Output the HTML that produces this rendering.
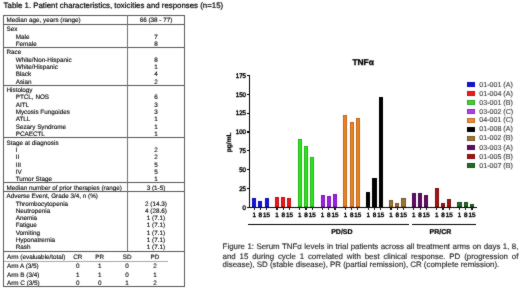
<!DOCTYPE html>
<html><head><meta charset="utf-8"><style>
html,body{margin:0;padding:0;background:#fff;width:520px;height:289px;overflow:hidden;}
body{position:relative;font-family:"Liberation Sans", sans-serif;}
#c{position:absolute;left:10px;top:10px;width:520px;height:289px;}
#w{position:absolute;left:-10px;top:-10px;width:540px;height:309px;will-change:transform;background:#fff;filter:url(#bl);}
.t{position:absolute;white-space:nowrap;line-height:1;-webkit-text-stroke:0.12px currentColor;text-rendering:geometricPrecision;}
.r{position:absolute;}
</style></head><body>
<svg width="0" height="0" style="position:absolute"><filter id="bl" x="0" y="0" width="100%" height="100%" color-interpolation-filters="sRGB"><feConvolveMatrix order="3" kernelMatrix="1 2 1 2 24 2 1 2 1" divisor="36" edgeMode="duplicate" preserveAlpha="true"/></filter></svg><div id="w"><div id="c">
<div class="t" style="left:3.60px;top:2px;font-size:7.85px;font-weight:normal;color:#000;-webkit-text-stroke:0.2px #000;">Table 1. Patient characteristics, toxicities and responses (n=15)</div>
<div class="t" style="left:6.50px;top:18px;font-size:6.33px;font-weight:normal;color:#000;">Median age, years (range)</div>
<div class="t" style="left:56.00px;width:200px;text-align:center;top:18px;font-size:6.33px;font-weight:normal;color:#000;">66 (38 - 77)</div>
<div class="t" style="left:6.50px;top:27px;font-size:6.33px;font-weight:normal;color:#000;">Sex</div>
<div class="t" style="left:15.70px;top:35px;font-size:6.33px;font-weight:normal;color:#000;">Male</div>
<div class="t" style="left:56.00px;width:200px;text-align:center;top:35px;font-size:6.33px;font-weight:normal;color:#000;">7</div>
<div class="t" style="left:15.70px;top:42px;font-size:6.33px;font-weight:normal;color:#000;">Female</div>
<div class="t" style="left:56.00px;width:200px;text-align:center;top:42px;font-size:6.33px;font-weight:normal;color:#000;">8</div>
<div class="t" style="left:6.50px;top:50px;font-size:6.33px;font-weight:normal;color:#000;">Race</div>
<div class="t" style="left:15.70px;top:58px;font-size:6.33px;font-weight:normal;color:#000;">White/Non-Hispanic</div>
<div class="t" style="left:56.00px;width:200px;text-align:center;top:58px;font-size:6.33px;font-weight:normal;color:#000;">8</div>
<div class="t" style="left:15.70px;top:65px;font-size:6.33px;font-weight:normal;color:#000;">White/Hispanic</div>
<div class="t" style="left:56.00px;width:200px;text-align:center;top:65px;font-size:6.33px;font-weight:normal;color:#000;">1</div>
<div class="t" style="left:15.70px;top:72px;font-size:6.33px;font-weight:normal;color:#000;">Black</div>
<div class="t" style="left:56.00px;width:200px;text-align:center;top:72px;font-size:6.33px;font-weight:normal;color:#000;">4</div>
<div class="t" style="left:15.70px;top:80px;font-size:6.33px;font-weight:normal;color:#000;">Asian</div>
<div class="t" style="left:56.00px;width:200px;text-align:center;top:80px;font-size:6.33px;font-weight:normal;color:#000;">2</div>
<div class="t" style="left:6.50px;top:88px;font-size:6.33px;font-weight:normal;color:#000;">Histology</div>
<div class="t" style="left:15.70px;top:95px;font-size:6.33px;font-weight:normal;color:#000;">PTCL, NOS</div>
<div class="t" style="left:56.00px;width:200px;text-align:center;top:95px;font-size:6.33px;font-weight:normal;color:#000;">6</div>
<div class="t" style="left:15.70px;top:103px;font-size:6.33px;font-weight:normal;color:#000;">AITL</div>
<div class="t" style="left:56.00px;width:200px;text-align:center;top:103px;font-size:6.33px;font-weight:normal;color:#000;">3</div>
<div class="t" style="left:15.70px;top:110px;font-size:6.33px;font-weight:normal;color:#000;">Mycosis Fungoides</div>
<div class="t" style="left:56.00px;width:200px;text-align:center;top:110px;font-size:6.33px;font-weight:normal;color:#000;">3</div>
<div class="t" style="left:15.70px;top:117px;font-size:6.33px;font-weight:normal;color:#000;">ATLL</div>
<div class="t" style="left:56.00px;width:200px;text-align:center;top:117px;font-size:6.33px;font-weight:normal;color:#000;">1</div>
<div class="t" style="left:15.70px;top:125px;font-size:6.33px;font-weight:normal;color:#000;">Sezary Syndrome</div>
<div class="t" style="left:56.00px;width:200px;text-align:center;top:125px;font-size:6.33px;font-weight:normal;color:#000;">1</div>
<div class="t" style="left:15.70px;top:132px;font-size:6.33px;font-weight:normal;color:#000;">PCAECTL</div>
<div class="t" style="left:56.00px;width:200px;text-align:center;top:132px;font-size:6.33px;font-weight:normal;color:#000;">1</div>
<div class="t" style="left:6.50px;top:141px;font-size:6.33px;font-weight:normal;color:#000;">Stage at diagnosis</div>
<div class="t" style="left:15.70px;top:148px;font-size:6.33px;font-weight:normal;color:#000;">I</div>
<div class="t" style="left:56.00px;width:200px;text-align:center;top:148px;font-size:6.33px;font-weight:normal;color:#000;">2</div>
<div class="t" style="left:15.70px;top:155px;font-size:6.33px;font-weight:normal;color:#000;">II</div>
<div class="t" style="left:56.00px;width:200px;text-align:center;top:155px;font-size:6.33px;font-weight:normal;color:#000;">2</div>
<div class="t" style="left:15.70px;top:163px;font-size:6.33px;font-weight:normal;color:#000;">III</div>
<div class="t" style="left:56.00px;width:200px;text-align:center;top:163px;font-size:6.33px;font-weight:normal;color:#000;">5</div>
<div class="t" style="left:15.70px;top:170px;font-size:6.33px;font-weight:normal;color:#000;">IV</div>
<div class="t" style="left:56.00px;width:200px;text-align:center;top:170px;font-size:6.33px;font-weight:normal;color:#000;">5</div>
<div class="t" style="left:15.70px;top:177px;font-size:6.33px;font-weight:normal;color:#000;">Tumor Stage</div>
<div class="t" style="left:56.00px;width:200px;text-align:center;top:177px;font-size:6.33px;font-weight:normal;color:#000;">1</div>
<div class="t" style="left:6.50px;top:186px;font-size:6.33px;font-weight:normal;color:#000;">Median number of prior therapies (range)</div>
<div class="t" style="left:56.00px;width:200px;text-align:center;top:186px;font-size:6.33px;font-weight:normal;color:#000;">3 (1-5)</div>
<div class="t" style="left:6.50px;top:194px;font-size:6.33px;font-weight:normal;color:#000;">Adverse Event, Grade 3/4, n (%)</div>
<div class="t" style="left:15.70px;top:202px;font-size:6.33px;font-weight:normal;color:#000;">Thrombocytopenia</div>
<div class="t" style="left:56.00px;width:200px;text-align:center;top:202px;font-size:6.33px;font-weight:normal;color:#000;">2 (14.3)</div>
<div class="t" style="left:15.70px;top:209px;font-size:6.33px;font-weight:normal;color:#000;">Neutropenia</div>
<div class="t" style="left:56.00px;width:200px;text-align:center;top:209px;font-size:6.33px;font-weight:normal;color:#000;">4 (28.6)</div>
<div class="t" style="left:15.70px;top:216px;font-size:6.33px;font-weight:normal;color:#000;">Anemia</div>
<div class="t" style="left:56.00px;width:200px;text-align:center;top:216px;font-size:6.33px;font-weight:normal;color:#000;">1 (7.1)</div>
<div class="t" style="left:15.70px;top:223px;font-size:6.33px;font-weight:normal;color:#000;">Fatigue</div>
<div class="t" style="left:56.00px;width:200px;text-align:center;top:223px;font-size:6.33px;font-weight:normal;color:#000;">1 (7.1)</div>
<div class="t" style="left:15.70px;top:231px;font-size:6.33px;font-weight:normal;color:#000;">Vomiting</div>
<div class="t" style="left:56.00px;width:200px;text-align:center;top:231px;font-size:6.33px;font-weight:normal;color:#000;">1 (7.1)</div>
<div class="t" style="left:15.70px;top:238px;font-size:6.33px;font-weight:normal;color:#000;">Hyponatremia</div>
<div class="t" style="left:56.00px;width:200px;text-align:center;top:238px;font-size:6.33px;font-weight:normal;color:#000;">1 (7.1)</div>
<div class="t" style="left:15.70px;top:245px;font-size:6.33px;font-weight:normal;color:#000;">Rash</div>
<div class="t" style="left:56.00px;width:200px;text-align:center;top:245px;font-size:6.33px;font-weight:normal;color:#000;">1 (7.1)</div>
<div class="t" style="left:7.00px;top:255px;font-size:6.33px;font-weight:normal;color:#000;">Arm (evaluable/total)</div>
<div class="t" style="left:-22.20px;width:200px;text-align:center;top:255px;font-size:6.33px;font-weight:normal;color:#000;">CR</div>
<div class="t" style="left:-0.30px;width:200px;text-align:center;top:255px;font-size:6.33px;font-weight:normal;color:#000;">PR</div>
<div class="t" style="left:27.10px;width:200px;text-align:center;top:255px;font-size:6.33px;font-weight:normal;color:#000;">SD</div>
<div class="t" style="left:54.90px;width:200px;text-align:center;top:255px;font-size:6.33px;font-weight:normal;color:#000;">PD</div>
<div class="t" style="left:7.00px;top:264px;font-size:6.33px;font-weight:normal;color:#000;">Arm A (3/5)</div>
<div class="t" style="left:-22.20px;width:200px;text-align:center;top:264px;font-size:6.33px;font-weight:normal;color:#000;">0</div>
<div class="t" style="left:-0.30px;width:200px;text-align:center;top:264px;font-size:6.33px;font-weight:normal;color:#000;">1</div>
<div class="t" style="left:27.10px;width:200px;text-align:center;top:264px;font-size:6.33px;font-weight:normal;color:#000;">0</div>
<div class="t" style="left:54.90px;width:200px;text-align:center;top:264px;font-size:6.33px;font-weight:normal;color:#000;">2</div>
<div class="t" style="left:7.00px;top:273px;font-size:6.33px;font-weight:normal;color:#000;">Arm B (3/4)</div>
<div class="t" style="left:-22.20px;width:200px;text-align:center;top:273px;font-size:6.33px;font-weight:normal;color:#000;">1</div>
<div class="t" style="left:-0.30px;width:200px;text-align:center;top:273px;font-size:6.33px;font-weight:normal;color:#000;">1</div>
<div class="t" style="left:27.10px;width:200px;text-align:center;top:273px;font-size:6.33px;font-weight:normal;color:#000;">0</div>
<div class="t" style="left:54.90px;width:200px;text-align:center;top:273px;font-size:6.33px;font-weight:normal;color:#000;">1</div>
<div class="t" style="left:7.00px;top:281px;font-size:6.33px;font-weight:normal;color:#000;">Arm C (3/5)</div>
<div class="t" style="left:-22.20px;width:200px;text-align:center;top:281px;font-size:6.33px;font-weight:normal;color:#000;">0</div>
<div class="t" style="left:-0.30px;width:200px;text-align:center;top:281px;font-size:6.33px;font-weight:normal;color:#000;">0</div>
<div class="t" style="left:27.10px;width:200px;text-align:center;top:281px;font-size:6.33px;font-weight:normal;color:#000;">1</div>
<div class="t" style="left:54.90px;width:200px;text-align:center;top:281px;font-size:6.33px;font-weight:normal;color:#000;">2</div>
<div class="r" style="left:3.00px;top:14.80px;width:182.00px;height:1.20px;background:#555;"></div>
<div class="r" style="left:3.00px;top:23.80px;width:182.00px;height:1.20px;background:#555;"></div>
<div class="r" style="left:3.00px;top:46.70px;width:182.00px;height:1.20px;background:#555;"></div>
<div class="r" style="left:3.00px;top:84.80px;width:182.00px;height:1.20px;background:#555;"></div>
<div class="r" style="left:3.00px;top:137.20px;width:182.00px;height:1.20px;background:#555;"></div>
<div class="r" style="left:3.00px;top:182.30px;width:182.00px;height:1.20px;background:#555;"></div>
<div class="r" style="left:3.00px;top:190.90px;width:182.00px;height:1.20px;background:#555;"></div>
<div class="r" style="left:3.00px;top:250.80px;width:182.00px;height:1.20px;background:#555;"></div>
<div class="r" style="left:3.00px;top:286.00px;width:182.00px;height:1.20px;background:#555;"></div>
<div class="r" style="left:2.90px;top:15.00px;width:1.20px;height:272.10px;background:#5a5a5a;"></div>
<div class="r" style="left:183.90px;top:15.00px;width:1.20px;height:272.10px;background:#5a5a5a;"></div>
<div class="r" style="left:126.90px;top:15.00px;width:1.20px;height:236.00px;background:#707070;"></div>
<div class="r" style="left:4.00px;top:260.50px;width:164.20px;height:1.40px;background:#a8a8a8;"></div>
<div class="r" style="left:249.20px;top:75.00px;width:1.30px;height:132.80px;background:#000;"></div>
<div class="r" style="left:246.80px;top:206.60px;width:2.60px;height:1.20px;background:#000;"></div>
<div class="t" style="left:45.50px;width:200px;text-align:right;top:206px;font-size:6.6px;font-weight:normal;color:#000;transform:scaleX(0.93);transform-origin:100% 50%;-webkit-text-stroke:0.42px #000;">0</div>
<div class="r" style="left:246.80px;top:187.80px;width:2.60px;height:1.20px;background:#000;"></div>
<div class="t" style="left:45.50px;width:200px;text-align:right;top:187px;font-size:6.6px;font-weight:normal;color:#000;transform:scaleX(0.93);transform-origin:100% 50%;-webkit-text-stroke:0.42px #000;">25</div>
<div class="r" style="left:246.80px;top:169.00px;width:2.60px;height:1.20px;background:#000;"></div>
<div class="t" style="left:45.50px;width:200px;text-align:right;top:168px;font-size:6.6px;font-weight:normal;color:#000;transform:scaleX(0.93);transform-origin:100% 50%;-webkit-text-stroke:0.42px #000;">50</div>
<div class="r" style="left:246.80px;top:150.20px;width:2.60px;height:1.20px;background:#000;"></div>
<div class="t" style="left:45.50px;width:200px;text-align:right;top:149px;font-size:6.6px;font-weight:normal;color:#000;transform:scaleX(0.93);transform-origin:100% 50%;-webkit-text-stroke:0.42px #000;">75</div>
<div class="r" style="left:246.80px;top:131.40px;width:2.60px;height:1.20px;background:#000;"></div>
<div class="t" style="left:45.50px;width:200px;text-align:right;top:130px;font-size:6.6px;font-weight:normal;color:#000;transform:scaleX(0.93);transform-origin:100% 50%;-webkit-text-stroke:0.42px #000;">100</div>
<div class="r" style="left:246.80px;top:112.60px;width:2.60px;height:1.20px;background:#000;"></div>
<div class="t" style="left:45.50px;width:200px;text-align:right;top:111px;font-size:6.6px;font-weight:normal;color:#000;transform:scaleX(0.93);transform-origin:100% 50%;-webkit-text-stroke:0.42px #000;">125</div>
<div class="r" style="left:246.80px;top:93.80px;width:2.60px;height:1.20px;background:#000;"></div>
<div class="t" style="left:45.50px;width:200px;text-align:right;top:93px;font-size:6.6px;font-weight:normal;color:#000;transform:scaleX(0.93);transform-origin:100% 50%;-webkit-text-stroke:0.42px #000;">150</div>
<div class="r" style="left:246.80px;top:75.00px;width:2.60px;height:1.20px;background:#000;"></div>
<div class="t" style="left:45.50px;width:200px;text-align:right;top:74px;font-size:6.6px;font-weight:normal;color:#000;transform:scaleX(0.93);transform-origin:100% 50%;-webkit-text-stroke:0.42px #000;">175</div>
<div class="r" style="left:246.80px;top:206.60px;width:230.60px;height:1.30px;background:#000;"></div>
<div class="r" style="left:252.10px;top:197.70px;width:4.10px;height:9.50px;background:#1414ee;box-shadow:inset 0 0 0 0.8px rgba(0,0,60,.35);"></div>
<div class="r" style="left:253.55px;top:207.20px;width:1.20px;height:2.60px;background:#111;"></div>
<div class="t" style="left:154.15px;width:200px;text-align:center;top:213px;font-size:6.3px;font-weight:normal;color:#000;-webkit-text-stroke:0.4px #000;">1</div>
<div class="r" style="left:258.32px;top:200.90px;width:4.10px;height:6.30px;background:#1414ee;box-shadow:inset 0 0 0 0.8px rgba(0,0,60,.35);"></div>
<div class="r" style="left:259.77px;top:207.20px;width:1.20px;height:2.60px;background:#111;"></div>
<div class="t" style="left:160.37px;width:200px;text-align:center;top:213px;font-size:6.3px;font-weight:normal;color:#000;-webkit-text-stroke:0.4px #000;">8</div>
<div class="r" style="left:264.54px;top:197.90px;width:4.10px;height:9.30px;background:#1414ee;box-shadow:inset 0 0 0 0.8px rgba(0,0,60,.35);"></div>
<div class="r" style="left:265.99px;top:207.20px;width:1.20px;height:2.60px;background:#111;"></div>
<div class="t" style="left:166.59px;width:200px;text-align:center;top:213px;font-size:6.3px;font-weight:normal;color:#000;-webkit-text-stroke:0.4px #000;">15</div>
<div class="r" style="left:274.92px;top:196.80px;width:4.10px;height:10.40px;background:#f01616;box-shadow:inset 0 0 0 0.8px rgba(80,0,0,.35);"></div>
<div class="r" style="left:276.37px;top:207.20px;width:1.20px;height:2.60px;background:#111;"></div>
<div class="t" style="left:176.97px;width:200px;text-align:center;top:213px;font-size:6.3px;font-weight:normal;color:#000;-webkit-text-stroke:0.4px #000;">1</div>
<div class="r" style="left:281.14px;top:196.70px;width:4.10px;height:10.50px;background:#f01616;box-shadow:inset 0 0 0 0.8px rgba(80,0,0,.35);"></div>
<div class="r" style="left:282.59px;top:207.20px;width:1.20px;height:2.60px;background:#111;"></div>
<div class="t" style="left:183.19px;width:200px;text-align:center;top:213px;font-size:6.3px;font-weight:normal;color:#000;-webkit-text-stroke:0.4px #000;">8</div>
<div class="r" style="left:287.36px;top:197.60px;width:4.10px;height:9.60px;background:#f01616;box-shadow:inset 0 0 0 0.8px rgba(80,0,0,.35);"></div>
<div class="r" style="left:288.81px;top:207.20px;width:1.20px;height:2.60px;background:#111;"></div>
<div class="t" style="left:189.41px;width:200px;text-align:center;top:213px;font-size:6.3px;font-weight:normal;color:#000;-webkit-text-stroke:0.4px #000;">15</div>
<div class="r" style="left:297.74px;top:139.30px;width:4.10px;height:67.90px;background:#30e41c;box-shadow:inset 0 0 0 0.8px rgba(0,60,0,.35);"></div>
<div class="r" style="left:299.19px;top:207.20px;width:1.20px;height:2.60px;background:#111;"></div>
<div class="t" style="left:199.79px;width:200px;text-align:center;top:213px;font-size:6.3px;font-weight:normal;color:#000;-webkit-text-stroke:0.4px #000;">1</div>
<div class="r" style="left:303.96px;top:145.60px;width:4.10px;height:61.60px;background:#30e41c;box-shadow:inset 0 0 0 0.8px rgba(0,60,0,.35);"></div>
<div class="r" style="left:305.41px;top:207.20px;width:1.20px;height:2.60px;background:#111;"></div>
<div class="t" style="left:206.01px;width:200px;text-align:center;top:213px;font-size:6.3px;font-weight:normal;color:#000;-webkit-text-stroke:0.4px #000;">8</div>
<div class="r" style="left:310.18px;top:156.50px;width:4.10px;height:50.70px;background:#30e41c;box-shadow:inset 0 0 0 0.8px rgba(0,60,0,.35);"></div>
<div class="r" style="left:311.63px;top:207.20px;width:1.20px;height:2.60px;background:#111;"></div>
<div class="t" style="left:212.23px;width:200px;text-align:center;top:213px;font-size:6.3px;font-weight:normal;color:#000;-webkit-text-stroke:0.4px #000;">15</div>
<div class="r" style="left:320.56px;top:194.50px;width:4.10px;height:12.70px;background:#9c20ec;box-shadow:inset 0 0 0 0.8px rgba(40,0,60,.35);"></div>
<div class="r" style="left:322.01px;top:207.20px;width:1.20px;height:2.60px;background:#111;"></div>
<div class="t" style="left:222.61px;width:200px;text-align:center;top:213px;font-size:6.3px;font-weight:normal;color:#000;-webkit-text-stroke:0.4px #000;">1</div>
<div class="r" style="left:326.78px;top:195.60px;width:4.10px;height:11.60px;background:#9c20ec;box-shadow:inset 0 0 0 0.8px rgba(40,0,60,.35);"></div>
<div class="r" style="left:328.23px;top:207.20px;width:1.20px;height:2.60px;background:#111;"></div>
<div class="t" style="left:228.83px;width:200px;text-align:center;top:213px;font-size:6.3px;font-weight:normal;color:#000;-webkit-text-stroke:0.4px #000;">8</div>
<div class="r" style="left:333.00px;top:194.00px;width:4.10px;height:13.20px;background:#9c20ec;box-shadow:inset 0 0 0 0.8px rgba(40,0,60,.35);"></div>
<div class="r" style="left:334.45px;top:207.20px;width:1.20px;height:2.60px;background:#111;"></div>
<div class="t" style="left:235.05px;width:200px;text-align:center;top:213px;font-size:6.3px;font-weight:normal;color:#000;-webkit-text-stroke:0.4px #000;">15</div>
<div class="r" style="left:343.38px;top:114.70px;width:4.10px;height:92.50px;background:#ea8424;box-shadow:inset 0 0 0 0.8px rgba(80,30,0,.35);"></div>
<div class="r" style="left:344.83px;top:207.20px;width:1.20px;height:2.60px;background:#111;"></div>
<div class="t" style="left:245.43px;width:200px;text-align:center;top:213px;font-size:6.3px;font-weight:normal;color:#000;-webkit-text-stroke:0.4px #000;">1</div>
<div class="r" style="left:349.60px;top:122.30px;width:4.10px;height:84.90px;background:#ea8424;box-shadow:inset 0 0 0 0.8px rgba(80,30,0,.35);"></div>
<div class="r" style="left:351.05px;top:207.20px;width:1.20px;height:2.60px;background:#111;"></div>
<div class="t" style="left:251.65px;width:200px;text-align:center;top:213px;font-size:6.3px;font-weight:normal;color:#000;-webkit-text-stroke:0.4px #000;">8</div>
<div class="r" style="left:355.82px;top:117.90px;width:4.10px;height:89.30px;background:#ea8424;box-shadow:inset 0 0 0 0.8px rgba(80,30,0,.35);"></div>
<div class="r" style="left:357.27px;top:207.20px;width:1.20px;height:2.60px;background:#111;"></div>
<div class="t" style="left:257.87px;width:200px;text-align:center;top:213px;font-size:6.3px;font-weight:normal;color:#000;-webkit-text-stroke:0.4px #000;">15</div>
<div class="r" style="left:366.20px;top:191.80px;width:4.10px;height:15.40px;background:#000000;box-shadow:inset 0 0 0 0.8px #000;"></div>
<div class="r" style="left:367.65px;top:207.20px;width:1.20px;height:2.60px;background:#111;"></div>
<div class="t" style="left:268.25px;width:200px;text-align:center;top:213px;font-size:6.3px;font-weight:normal;color:#000;-webkit-text-stroke:0.4px #000;">1</div>
<div class="r" style="left:372.42px;top:177.50px;width:4.10px;height:29.70px;background:#000000;box-shadow:inset 0 0 0 0.8px #000;"></div>
<div class="r" style="left:373.87px;top:207.20px;width:1.20px;height:2.60px;background:#111;"></div>
<div class="t" style="left:274.47px;width:200px;text-align:center;top:213px;font-size:6.3px;font-weight:normal;color:#000;-webkit-text-stroke:0.4px #000;">8</div>
<div class="r" style="left:378.64px;top:97.10px;width:4.10px;height:110.10px;background:#000000;box-shadow:inset 0 0 0 0.8px #000;"></div>
<div class="r" style="left:380.09px;top:207.20px;width:1.20px;height:2.60px;background:#111;"></div>
<div class="t" style="left:280.69px;width:200px;text-align:center;top:213px;font-size:6.3px;font-weight:normal;color:#000;-webkit-text-stroke:0.4px #000;">15</div>
<div class="r" style="left:389.02px;top:199.90px;width:4.10px;height:7.30px;background:#9e7634;box-shadow:inset 0 0 0 0.8px rgba(40,20,0,.4);"></div>
<div class="r" style="left:390.47px;top:207.20px;width:1.20px;height:2.60px;background:#111;"></div>
<div class="t" style="left:291.07px;width:200px;text-align:center;top:213px;font-size:6.3px;font-weight:normal;color:#000;-webkit-text-stroke:0.4px #000;">1</div>
<div class="r" style="left:395.24px;top:203.00px;width:4.10px;height:4.20px;background:#9e7634;box-shadow:inset 0 0 0 0.8px rgba(40,20,0,.4);"></div>
<div class="r" style="left:396.69px;top:207.20px;width:1.20px;height:2.60px;background:#111;"></div>
<div class="t" style="left:297.29px;width:200px;text-align:center;top:213px;font-size:6.3px;font-weight:normal;color:#000;-webkit-text-stroke:0.4px #000;">8</div>
<div class="r" style="left:401.46px;top:197.90px;width:4.10px;height:9.30px;background:#9e7634;box-shadow:inset 0 0 0 0.8px rgba(40,20,0,.4);"></div>
<div class="r" style="left:402.91px;top:207.20px;width:1.20px;height:2.60px;background:#111;"></div>
<div class="t" style="left:303.51px;width:200px;text-align:center;top:213px;font-size:6.3px;font-weight:normal;color:#000;-webkit-text-stroke:0.4px #000;">15</div>
<div class="r" style="left:411.84px;top:193.20px;width:4.10px;height:14.00px;background:#640a66;box-shadow:inset 0 0 0 0.8px rgba(20,0,20,.4);"></div>
<div class="r" style="left:413.29px;top:207.20px;width:1.20px;height:2.60px;background:#111;"></div>
<div class="t" style="left:313.89px;width:200px;text-align:center;top:213px;font-size:6.3px;font-weight:normal;color:#000;-webkit-text-stroke:0.4px #000;">1</div>
<div class="r" style="left:418.06px;top:192.50px;width:4.10px;height:14.70px;background:#640a66;box-shadow:inset 0 0 0 0.8px rgba(20,0,20,.4);"></div>
<div class="r" style="left:419.51px;top:207.20px;width:1.20px;height:2.60px;background:#111;"></div>
<div class="t" style="left:320.11px;width:200px;text-align:center;top:213px;font-size:6.3px;font-weight:normal;color:#000;-webkit-text-stroke:0.4px #000;">8</div>
<div class="r" style="left:424.28px;top:195.30px;width:4.10px;height:11.90px;background:#640a66;box-shadow:inset 0 0 0 0.8px rgba(20,0,20,.4);"></div>
<div class="r" style="left:425.73px;top:207.20px;width:1.20px;height:2.60px;background:#111;"></div>
<div class="t" style="left:326.33px;width:200px;text-align:center;top:213px;font-size:6.3px;font-weight:normal;color:#000;-webkit-text-stroke:0.4px #000;">15</div>
<div class="r" style="left:434.66px;top:187.50px;width:4.10px;height:19.70px;background:#a81212;box-shadow:inset 0 0 0 0.8px rgba(40,0,0,.4);"></div>
<div class="r" style="left:436.11px;top:207.20px;width:1.20px;height:2.60px;background:#111;"></div>
<div class="t" style="left:336.71px;width:200px;text-align:center;top:213px;font-size:6.3px;font-weight:normal;color:#000;-webkit-text-stroke:0.4px #000;">1</div>
<div class="r" style="left:440.88px;top:203.40px;width:4.10px;height:3.80px;background:#a81212;box-shadow:inset 0 0 0 0.8px rgba(40,0,0,.4);"></div>
<div class="r" style="left:442.33px;top:207.20px;width:1.20px;height:2.60px;background:#111;"></div>
<div class="t" style="left:342.93px;width:200px;text-align:center;top:213px;font-size:6.3px;font-weight:normal;color:#000;-webkit-text-stroke:0.4px #000;">8</div>
<div class="r" style="left:447.10px;top:199.20px;width:4.10px;height:8.00px;background:#a81212;box-shadow:inset 0 0 0 0.8px rgba(40,0,0,.4);"></div>
<div class="r" style="left:448.55px;top:207.20px;width:1.20px;height:2.60px;background:#111;"></div>
<div class="t" style="left:349.15px;width:200px;text-align:center;top:213px;font-size:6.3px;font-weight:normal;color:#000;-webkit-text-stroke:0.4px #000;">15</div>
<div class="r" style="left:457.48px;top:201.60px;width:4.10px;height:5.60px;background:#246a26;box-shadow:inset 0 0 0 0.8px rgba(0,20,0,.4);"></div>
<div class="r" style="left:458.93px;top:207.20px;width:1.20px;height:2.60px;background:#111;"></div>
<div class="t" style="left:359.53px;width:200px;text-align:center;top:213px;font-size:6.3px;font-weight:normal;color:#000;-webkit-text-stroke:0.4px #000;">1</div>
<div class="r" style="left:463.70px;top:202.40px;width:4.10px;height:4.80px;background:#246a26;box-shadow:inset 0 0 0 0.8px rgba(0,20,0,.4);"></div>
<div class="r" style="left:465.15px;top:207.20px;width:1.20px;height:2.60px;background:#111;"></div>
<div class="t" style="left:365.75px;width:200px;text-align:center;top:213px;font-size:6.3px;font-weight:normal;color:#000;-webkit-text-stroke:0.4px #000;">8</div>
<div class="r" style="left:469.92px;top:203.70px;width:4.10px;height:3.50px;background:#246a26;box-shadow:inset 0 0 0 0.8px rgba(0,20,0,.4);"></div>
<div class="r" style="left:471.37px;top:207.20px;width:1.20px;height:2.60px;background:#111;"></div>
<div class="t" style="left:371.97px;width:200px;text-align:center;top:213px;font-size:6.3px;font-weight:normal;color:#000;-webkit-text-stroke:0.4px #000;">15</div>
<div class="r" style="left:248.00px;top:223.70px;width:160.50px;height:1.50px;background:#000;"></div>
<div class="r" style="left:411.50px;top:223.70px;width:64.20px;height:1.50px;background:#000;"></div>
<div class="t" style="left:241.90px;width:200px;text-align:center;top:229px;font-size:7.0px;font-weight:bold;color:#000;-webkit-text-stroke:0.22px #000;">PD/SD</div>
<div class="t" style="left:340.40px;width:200px;text-align:center;top:229px;font-size:7.0px;font-weight:bold;color:#000;-webkit-text-stroke:0.22px #000;">PR/CR</div>
<div class="t" style="left:263.10px;width:200px;text-align:center;top:58px;font-size:8.4px;font-weight:bold;color:#000;-webkit-text-stroke:0.32px #000;">TNF&alpha;</div>
<div class="t" style="left:179.90px;top:138.70px;width:100px;text-align:center;font-size:6.65px;line-height:6.6px;color:#000;font-weight:bold;-webkit-text-stroke:0.2px #000;transform:rotate(-90deg);transform-origin:50% 50%;">pg/mL</div>
<div class="r" style="left:467.30px;top:82.20px;width:7.90px;height:5.00px;background:#1414e0;box-shadow:inset 0 0 0 0.8px rgba(0,0,60,.35);"></div>
<div class="t" style="left:479.30px;top:82px;font-size:7.1px;font-weight:normal;color:#3a3a3a;">01-001 (A)</div>
<div class="r" style="left:467.30px;top:91.10px;width:7.90px;height:5.00px;background:#ee1c1c;box-shadow:inset 0 0 0 0.8px rgba(80,0,0,.35);"></div>
<div class="t" style="left:479.30px;top:91px;font-size:7.1px;font-weight:normal;color:#3a3a3a;">01-004 (A)</div>
<div class="r" style="left:467.30px;top:100.30px;width:7.90px;height:5.00px;background:#44d030;box-shadow:inset 0 0 0 0.8px rgba(0,60,0,.35);"></div>
<div class="t" style="left:479.30px;top:100px;font-size:7.1px;font-weight:normal;color:#3a3a3a;">03-001 (B)</div>
<div class="r" style="left:467.30px;top:109.10px;width:7.90px;height:5.00px;background:#b040ec;box-shadow:inset 0 0 0 0.8px rgba(40,0,60,.35);"></div>
<div class="t" style="left:479.30px;top:109px;font-size:7.1px;font-weight:normal;color:#3a3a3a;">03-002 (C)</div>
<div class="r" style="left:467.30px;top:117.70px;width:7.90px;height:5.00px;background:#ea8c34;box-shadow:inset 0 0 0 0.8px rgba(80,30,0,.35);"></div>
<div class="t" style="left:479.30px;top:117px;font-size:7.1px;font-weight:normal;color:#3a3a3a;">04-001 (C)</div>
<div class="r" style="left:467.30px;top:126.70px;width:7.90px;height:5.00px;background:#000000;box-shadow:inset 0 0 0 0.8px #000;"></div>
<div class="t" style="left:479.30px;top:126px;font-size:7.1px;font-weight:normal;color:#3a3a3a;">01-008 (A)</div>
<div class="r" style="left:467.30px;top:135.60px;width:7.90px;height:5.00px;background:#9e7634;box-shadow:inset 0 0 0 0.8px rgba(40,20,0,.4);"></div>
<div class="t" style="left:479.30px;top:135px;font-size:7.1px;font-weight:normal;color:#3a3a3a;">01-002 (B)</div>
<div class="r" style="left:467.30px;top:145.40px;width:7.90px;height:5.00px;background:#640a66;box-shadow:inset 0 0 0 0.8px rgba(20,0,20,.4);"></div>
<div class="t" style="left:479.30px;top:145px;font-size:7.1px;font-weight:normal;color:#3a3a3a;">03-003 (A)</div>
<div class="r" style="left:467.30px;top:154.40px;width:7.90px;height:5.00px;background:#a81212;box-shadow:inset 0 0 0 0.8px rgba(40,0,0,.4);"></div>
<div class="t" style="left:479.30px;top:154px;font-size:7.1px;font-weight:normal;color:#3a3a3a;">01-005 (B)</div>
<div class="r" style="left:467.30px;top:163.40px;width:7.90px;height:5.00px;background:#246a26;box-shadow:inset 0 0 0 0.8px rgba(0,20,0,.4);"></div>
<div class="t" style="left:479.30px;top:163px;font-size:7.1px;font-weight:normal;color:#3a3a3a;">01-007 (B)</div>
<div class="t" style="left:222.60px;top:243px;font-size:7.9px;font-weight:normal;color:#1a1a1a;width:295.8px;text-align:justify;text-align-last:justify;">Figure 1: Serum TNF&alpha; levels in trial patients across all treatment arms on days 1, 8,</div>
<div class="t" style="left:222.60px;top:253px;font-size:7.9px;font-weight:normal;color:#1a1a1a;width:295.8px;text-align:justify;text-align-last:justify;">and 15 during cycle 1 correlated with best clinical response. PD (progression of</div>
<div class="t" style="left:222.60px;top:261px;font-size:7.9px;font-weight:normal;color:#1a1a1a;">disease), SD (stable disease), PR (partial remission), CR (complete remission).</div>
</div></div>
</body></html>
